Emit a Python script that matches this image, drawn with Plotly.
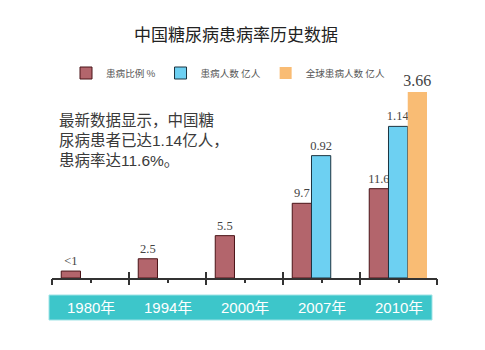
import plotly.graph_objects as go

# ---------------- data ----------------
categories = ["1980年", "1994年", "2000年", "2007年", "2010年"]
rate_pct = [0.9, 2.5, 5.5, 9.7, 11.6]
rate_labels = ["<1", "2.5", "5.5", "9.7", "11.6"]
china_patients = [None, None, None, 0.92, 1.14]
china_labels = ["", "", "", "0.92", "1.14"]
global_patients = [None, None, None, None, 3.66]
global_labels = ["", "", "", "", "3.66"]
series_names = ["患病比例 %", "患病人数 亿人", "全球患病人数 亿人"]
title_text = "中国糖尿病患病率历史数据"
note_lines = ["最新数据显示，中国糖", "尿病患者已达1.14亿人，", "患病率达11.6%。"]

# ---------------- layout constants ----------------
W, H = 485, 350
L, R, T, B = 52, 48, 78, 72
PW, PH = W - L - R, H - T - B
n = len(categories)
xr = [-0.5, n - 0.5]

FONT = "Noto Sans CJK SC"
SANS = "Liberation Sans, Noto Sans CJK SC"
NUMFONT = "Liberation Serif"

fig = go.Figure()

fig.add_trace(go.Bar(
    x=categories, y=rate_pct, name=series_names[0], yaxis="y",
    text=rate_labels, textposition="outside", cliponaxis=False, constraintext="none",
    textfont=dict(family=NUMFONT, size=12.5, color="#444444"),
    marker=dict(color="#B3656C", line=dict(color="#4a1418", width=1)),
    width=0.25, offset=-0.38,
))
fig.add_trace(go.Bar(
    x=categories, y=china_patients, name=series_names[1], yaxis="y2",
    text=china_labels, textposition="outside", cliponaxis=False, constraintext="none",
    textfont=dict(family=NUMFONT, size=12.5, color="#444444"),
    marker=dict(color="#6DD0F2", line=dict(color="#1c3440", width=1)),
    width=0.25, offset=-0.13,
))
fig.add_trace(go.Bar(
    x=categories, y=global_patients, name=series_names[2], yaxis="y3",
    text=global_labels, textposition="outside", cliponaxis=False, constraintext="none",
    textfont=dict(family=NUMFONT, size=16, color="#444444"),
    marker=dict(color="#F9BC74", line=dict(width=0)),
    width=0.25, offset=0.12,
))

# invisible helpers so the tick overlay axes are drawn
for ax in ["x2", "x3"]:
    fig.add_trace(go.Scatter(x=[None], y=[None], xaxis=ax, yaxis="y",
                             showlegend=False, hoverinfo="skip"))

boundaries = [i - 0.5 for i in range(n + 1)]
centers = list(range(n))

annotations = []
for c in categories:
    annotations.append(dict(
        x=c, xref="x", y=-(307.5 - (H - B)) / PH,
        yref="paper", text=c, showarrow=False,
        font=dict(family=SANS, size=15, color="white"),
        xanchor="center", yanchor="middle"))

annotations.append(dict(
    x=(57 - L) / PW, xref="paper", xanchor="left",
    y=((H - B) - 140) / PH, yref="paper", yanchor="middle",
    text="<br>".join(note_lines), showarrow=False, align="left",
    font=dict(family=SANS, size=15.5, color="#3a3a3a")))

fig.update_layout(
    width=W, height=H,
    margin=dict(l=L, r=R, t=T, b=B),
    paper_bgcolor="white", plot_bgcolor="white",
    title=dict(text=title_text, x=236 / W, xref="container", xanchor="center",
               y=1 - 35 / H, yref="container", yanchor="middle",
               font=dict(family=FONT, size=17, color="#222222")),
    showlegend=True,
    legend=dict(orientation="h", x=(66 - L) / PW, xanchor="left",
                y=((H - B) - 73) / PH, yanchor="middle",
                font=dict(family=FONT, size=9.6, color="#555555"),
                bgcolor="rgba(0,0,0,0)", traceorder="normal"),
    barmode="overlay",
    xaxis=dict(type="category", range=xr, showline=True, linecolor="#333333",
               linewidth=1.5, ticks="", showticklabels=False, showgrid=False,
               zeroline=False, fixedrange=True),
    xaxis2=dict(overlaying="x", anchor="y", side="bottom", type="linear", range=xr,
                tickmode="array", tickvals=boundaries, ticks="outside", ticklen=6,
                tickwidth=1.5, tickcolor="#333333", showticklabels=False,
                minor=dict(tickmode="array", tickvals=centers, ticks="outside",
                           ticklen=4, tickwidth=1.5, tickcolor="#333333"),
                showgrid=False, zeroline=False, showline=False),
    xaxis3=dict(overlaying="x", anchor="y", side="bottom", type="linear", range=xr,
                tickmode="array", tickvals=boundaries, ticks="inside", ticklen=6,
                tickwidth=1.5, tickcolor="#333333", showticklabels=False,
                showgrid=False, zeroline=False, showline=False),
    yaxis=dict(range=[0, PH / 7.7], visible=False, fixedrange=True),
    yaxis2=dict(range=[0, PH / 133], overlaying="y", visible=False),
    yaxis3=dict(range=[0, PH / 50.8], overlaying="y", visible=False),
    shapes=[dict(type="rect", xref="paper", yref="paper", layer="below",
                 x0=(49 - L) / PW, x1=(432 - L) / PW,
                 y0=-(320 - (H - B)) / PH, y1=-(295 - (H - B)) / PH,
                 fillcolor="#3DC6CA", line=dict(color="#9FE3E6", width=1))],
    annotations=annotations,
)

fig.write_html("out.html")
